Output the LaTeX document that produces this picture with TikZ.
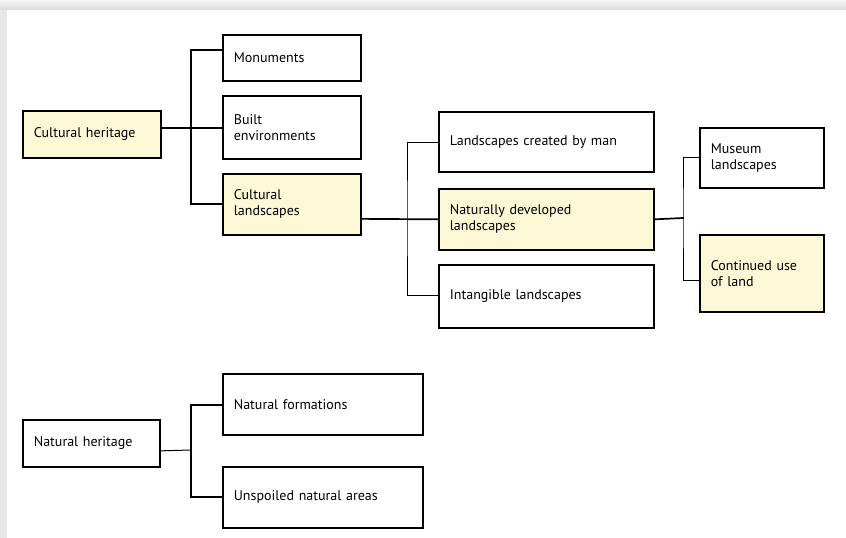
\documentclass[tikz,border=0pt]{standalone}
\usepackage{fontspec}
\setmainfont{PT Sans}
\usetikzlibrary{calc}
\definecolor{boxfill}{RGB}{252,247,212}
\tikzset{
  x=1pt, y=-1pt,
  box/.style={draw=black, line width=1.7pt, fill=white, anchor=north west,
    inner xsep=11pt, inner ysep=0pt, align=left,
    font=\fontsize{14}{16}\selectfont},
  hl/.style={fill=boxfill},
  conn/.style={line width=1.7pt, line cap=rect},
  thin/.style={line width=1pt},
}
\begin{document}
\begin{tikzpicture}
\useasboundingbox (0,0) rectangle (846,538);
% background with top and left shade
\shade[top color=gray!8, bottom color=gray!28] (0,0) rectangle (846,10);
\fill[gray!18] (0,10) rectangle (7,538);
\fill[white] (7,10) rectangle (846,538);
% shadows
\foreach \a/\b/\c/\d in {22/110/160/157, 222/34/360/80, 222/95/360/158, 222/173/360/234,
  438/111/653/171, 438/188/653/249, 438/264/653/327, 699/127/823/187, 699/234/823/311,
  22/419/159/466, 222/373/422/434, 222/466/422/527}
  \fill[gray!25] (\a+1.5,\b+1.5) rectangle (\c+1.5,\d+1.5);
% boxes
\node[box,hl,minimum width=138pt,minimum height=47pt,text width=116pt] (ch) at (22,110) {Cultural heritage};
\node[box,minimum width=138pt,minimum height=46pt,text width=116pt] (mon) at (222,34) {Monuments};
\node[box,minimum width=138pt,minimum height=63pt,text width=116pt] (built) at (222,95) {Built\\environments};
\node[box,hl,minimum width=138pt,minimum height=61pt,text width=116pt] (cl) at (222,173) {Cultural\\landscapes};
\node[box,minimum width=215pt,minimum height=60pt,text width=193pt] (man) at (438,111) {Landscapes created by man};
\node[box,hl,minimum width=215pt,minimum height=61pt,text width=193pt] (nat) at (438,188) {Naturally developed\\landscapes};
\node[box,minimum width=215pt,minimum height=63pt,text width=193pt] (intang) at (438,264) {Intangible landscapes};
\node[box,minimum width=124pt,minimum height=60pt,text width=102pt] (mus) at (699,127) {Museum\\landscapes};
\node[box,hl,minimum width=124pt,minimum height=77pt,text width=102pt] (cont) at (699,234) {Continued use\\of land};
\node[box,minimum width=137pt,minimum height=47pt,text width=115pt] (nh) at (22,419) {Natural heritage};
\node[box,minimum width=200pt,minimum height=61pt,text width=178pt] (form) at (222,373) {Natural formations};
\node[box,minimum width=200pt,minimum height=61pt,text width=178pt] (unsp) at (222,466) {Unspoiled natural areas};
% junction coordinates
\coordinate (j1) at (191,127);
\coordinate (j2) at (407,218);
\coordinate (j3) at (683,218);
\coordinate (j4) at (191,450);
% connectors: cultural heritage
\draw[conn] ($(ch.east)+(0,-6.5)$) -- ($(built.west)+(0,0.5)$);
\draw[conn] ($(mon.west)+(0,-8)$) -| (j1) |- ($(cl.west)+(0,-0.5)$);
% cultural landscapes
\draw[conn] ($(cl.east)+(0,14.5)$) -- (nat.west);
\draw[thin] ($(man.west)+(0,1)$) -| (j2) |- ($(intang.west)+(0,-0.5)$);
% naturally developed
\draw[conn] (nat.east) -- (j3);
\draw[thin] (mus.west) -| (j3) |- ($(cont.west)+(0,7.5)$);
% natural heritage
\draw[thin] ($(nh.east)+(0,7.5)$) -- (j4);
\draw[conn] ($(form.west)+(0,0.5)$) -| (j4) |- ($(unsp.west)+(0,-0.5)$);
\end{tikzpicture}
\end{document}
